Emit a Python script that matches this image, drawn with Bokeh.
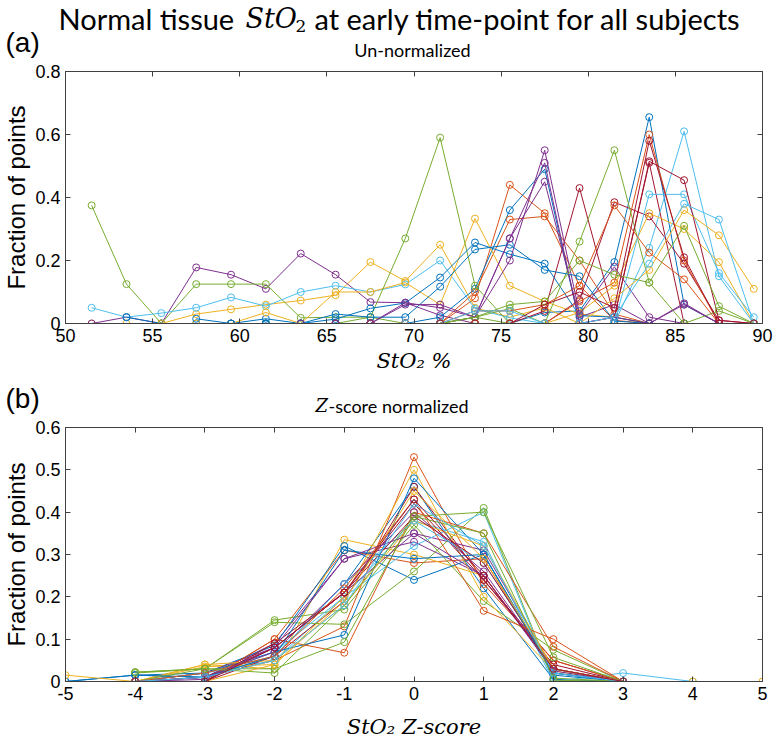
import numpy as np
from bokeh.plotting import figure
from bokeh.models import LinearAxis, FixedTicker, Range1d
from bokeh.core.properties import value
from bokeh.layouts import column, row
from bokeh.embed import file_html
from bokeh.resources import INLINE

N = None

# ---------------- data: panel (a) ----------------
sto2_bins = [51.5, 53.5, 55.5, 57.5, 59.5, 61.5, 63.5, 65.5, 67.5, 69.5,
             71.5, 73.5, 75.5, 77.5, 79.5, 81.5, 83.5, 85.5, 87.5, 89.5]
sto2_ticks = [50, 55, 60, 65, 70, 75, 80, 85, 90]
frac_ticks_a = [0, 0.2, 0.4, 0.6, 0.8]

a01 = [N, N, N, N, 0, .015, 0, 0, 0, 0, 0, 0, 0, .035, .04, .195, .655, .06, 0, N]
a02 = [N, N, N, N, N, N, 0, 0, 0, 0, 0, .08, .44, .35, .12, .01, 0, 0, N, N]
a03 = [0, 0, 0, .03, .045, .06, .073, .09, .195, .135, .25, .05, .02, .05, 0, 0, 0, N, N, N]
a04 = [0, .02, 0, .178, .155, .11, .222, .155, .068, .066, .026, 0, 0, 0, 0, N, N, N, N, N]
a05 = [.375, .125, 0, .125, .125, .125, .018, .02, .02, 0, 0, .02, .047, 0, 0, N, N, N, N, N]
a06 = [.05, .02, .033, .05, .083, .055, .1, .12, .1, .124, .2, .047, .018, 0, 0, 0, N, N, N, N]
a07 = [N, N, N, N, N, N, 0, 0, 0, 0, 0, 0, 0, .04, .43, .02, .51, 0, 0, 0]
a08 = [N, .02, 0, 0, 0, 0, 0, 0, 0, 0, .02, .11, .36, .49, 0, 0, 0, 0, N, N]
a09 = [N, N, N, N, N, N, N, 0, 0, 0, 0, .1, .33, .34, .2, .03, 0, 0, N, N]
a10 = [N, N, 0, 0, 0, .035, 0, .1, .1, .13, .06, .333, .12, .07, .03, .02, 0, 0, N, N]
a11 = [N, N, N, N, N, N, N, 0, 0, .06, .06, .02, .27, .45, .02, .06, 0, .06, 0, N]
a12 = [N, N, N, N, N, 0, 0, 0, .02, .27, .59, .12, 0, 0, 0, 0, 0, N, N, N]
a13 = [N, N, N, N, N, N, N, N, N, 0, 0, 0, 0, 0, 0, 0, .24, .61, .15, 0]
a14 = [N, N, N, N, N, N, N, 0, 0, 0, 0, 0, 0, 0, .075, .385, .34, .19, .01, 0]
a15 = [N, N, N, .015, 0, 0, 0, .014, .048, .065, .146, .257, .22, .19, .025, .02, 0, 0, N, N]
a16 = [N, N, N, N, N, N, N, N, N, N, 0, 0, 0, 0, .07, .13, .6, .2, 0, 0]
a17 = [N, N, N, N, N, N, N, N, N, N, 0, 0, 0, 0, .035, .12, .35, .30, .195, 0]
a18 = [N, N, N, N, N, N, N, N, 0, 0, 0, .02, .2, .55, .03, .18, .02, 0, 0, N]
a19 = [N, N, N, N, N, N, N, N, N, 0, 0, .02, 0, 0, .26, .55, .13, 0, .04, 0]
a20 = [N, N, N, N, N, N, N, N, N, N, 0, 0, 0, 0, 0, 0, .41, .41, .16, .02]
a21 = [N, N, N, N, N, N, N, N, 0, 0, 0, 0, 0, 0, 0, .02, .515, .455, .01, 0]
a22 = [N, N, N, N, 0, 0, 0, .03, .02, .02, .117, .235, .25, .17, .15, .008, 0, N, N, N]
a23 = [N, N, N, N, N, N, N, N, 0, 0, 0, .04, .04, .06, .12, .375, .225, .14, 0, N]
a24 = [N, N, N, N, N, N, N, N, N, N, N, 0, 0, 0, 0, .08, .17, .36, .28, .11]
a25 = [N, N, N, N, N, N, 0, 0, 0, .066, .05, .02, .27, .51, 0, .02, 0, .064, 0, N]
a26 = [N, N, N, N, N, N, N, N, N, N, 0, .02, .06, .07, .2, .155, .13, .31, .055, 0]
a27 = [N, N, N, N, N, N, N, N, N, 0, 0, .04, .04, 0, 0, .02, .19, .38, .33, 0]
a28 = [N, N, N, N, N, N, N, N, N, N, 0, 0, 0, .06, .1, .05, .58, .21, 0, 0]

# ---------------- data: panel (b) ----------------
z_bins = [-5, -4, -3, -2, -1, 0, 1, 2, 3, 4, 5]
z_ticks = [-5, -4, -3, -2, -1, 0, 1, 2, 3, 4, 5]
frac_ticks_b = [0, 0.1, 0.2, 0.3, 0.4, 0.5, 0.6]

b01 = [0, .015, .01, .06, .23, .46, .22, .005, 0, N, N]
b02 = [N, 0, 0, .1, .31, .28, .29, .02, 0, N, N]
b03 = [N, 0, .04, .03, .335, .30, .25, .03, 0, N, N]
b04 = [N, 0, .01, .09, .29, .33, .25, .03, 0, N, N]
b05 = [N, .02, .03, .145, .17, .37, .19, .075, 0, N, N]
b06 = [N, 0, .02, .05, .2, .38, .33, 0, .02, 0, N]
b07 = [N, 0, 0, .06, .19, .46, .24, .05, 0, N, N]
b08 = [0, .015, .02, .085, .32, .24, .30, .02, 0, N, N]
b09 = [N, 0, .01, .05, .13, .53, .23, .05, 0, N, N]
b10 = [N, 0, .035, .04, .2, .5, .2, .025, 0, N, N]
b11 = [N, 0, .02, .08, .21, .35, .31, .03, 0, N, N]
b12 = [N, .022, .03, .14, .135, .26, .41, .003, 0, N, N]
b13 = [N, 0, .01, .07, .2, .32, .40, 0, 0, N, N]
b14 = [N, 0, .01, .08, .21, .42, .24, .04, 0, N, N]
b15 = [N, 0, .02, .07, .11, .48, .30, .02, 0, N, N]
b16 = [N, 0, 0, .10, .068, .40, .35, .082, 0, N, N]
b17 = [N, 0, .04, .05, .18, .38, .32, .03, 0, N, N]
b18 = [N, 0, .01, .07, .23, .40, .26, .03, 0, N, N]
b19 = [N, 0, .03, .03, .093, .39, .40, .057, 0, N, N]
b20 = [N, 0, .02, .06, .23, .38, .28, .03, 0, N, N]
b21 = [N, 0, 0, .09, .21, .39, .28, .03, 0, N, N]
b22 = [N, .015, .01, .06, .31, .29, .30, .015, 0, N, N]
b23 = [N, 0, .02, .06, .22, .43, .167, .1, 0, N, N]
b24 = [.015, 0, 0, .04, .19, .45, .29, .03, 0, 0, 0]
b25 = [N, 0, .005, .08, .29, .35, .25, .025, 0, N, N]
b26 = [N, .022, .03, .02, .18, .39, .35, .008, 0, N, N]
b27 = [N, 0, .01, .05, .18, .42, .32, .02, 0, N, N]
b28 = [N, 0, 0, .08, .21, .43, .25, .03, 0, N, N]

series_a = [a01, a02, a03, a04, a05, a06, a07, a08, a09, a10, a11, a12, a13, a14,
            a15, a16, a17, a18, a19, a20, a21, a22, a23, a24, a25, a26, a27, a28]
series_b = [b01, b02, b03, b04, b05, b06, b07, b08, b09, b10, b11, b12, b13, b14,
            b15, b16, b17, b18, b19, b20, b21, b22, b23, b24, b25, b26, b27, b28]

colors = ["#0072BD", "#D95319", "#EDB120", "#7E2F8E", "#77AC30", "#4DBEEE", "#A2142F"]

AX = "#404040"
TICK_FONT = "Liberation Sans"
SANS = "Lato"
SERIF = "DejaVu Serif"
W = 773


def tick_fmt(v):
    if v == 0:
        return "0"
    if float(v).is_integer():
        return str(int(v))
    return "%g" % v


def style(p, xticks, yticks, xlabel, xlabel_standoff):
    xa = p.below[0]
    ya = p.left[0]
    xa.ticker = FixedTicker(ticks=xticks)
    ya.ticker = FixedTicker(ticks=yticks)
    xa.major_label_overrides = {t: tick_fmt(t) for t in xticks}
    ya.major_label_overrides = {t: tick_fmt(t) for t in yticks}
    for ax in (xa, ya):
        ax.major_tick_in = 5
        ax.major_tick_out = 0
        ax.minor_tick_in = 0
        ax.minor_tick_out = 0
        ax.axis_line_color = AX
        ax.major_tick_line_color = AX
        ax.major_label_text_font = TICK_FONT
        ax.major_label_text_font_size = "18px"
        ax.major_label_text_color = "#000000"
        ax.axis_label_text_color = "#000000"
        ax.major_label_standoff = 5
    ya.axis_label = "Fraction of points"
    ya.axis_label_text_font = TICK_FONT
    ya.axis_label_text_font_size = "24px"
    ya.axis_label_text_font_style = "normal"
    ya.axis_label_standoff = 2
    xa.axis_label = xlabel
    xa.axis_label_text_font = SERIF
    xa.axis_label_text_font_size = "21px"
    xa.axis_label_text_font_style = "italic"
    xa.axis_label_standoff = xlabel_standoff
    p.xgrid.visible = False
    p.ygrid.visible = False
    p.outline_line_color = AX
    p.outline_line_width = 1
    p.background_fill_color = "white"
    p.border_fill_color = "white"
    top = LinearAxis(ticker=FixedTicker(ticks=xticks), major_label_text_font_size="0px",
                     major_label_standoff=0, major_tick_in=5, major_tick_out=0,
                     minor_tick_in=0, minor_tick_out=0, axis_line_color=None,
                     major_tick_line_color=AX)
    top.major_label_overrides = {t: "" for t in xticks}
    right = LinearAxis(ticker=FixedTicker(ticks=yticks), major_label_text_font_size="0px",
                       major_label_standoff=0, major_tick_in=5, major_tick_out=0,
                       minor_tick_in=0, minor_tick_out=0, axis_line_color=None,
                       major_tick_line_color=AX)
    right.major_label_overrides = {t: "" for t in yticks}
    p.add_layout(top, "above")
    p.add_layout(right, "right")


def draw(p, xs, series):
    x = np.array(xs, dtype=float)
    for i, s in enumerate(series):
        y = np.array(s, dtype=float)
        c = colors[i % len(colors)]
        p.line(x, y, line_color=c, line_width=1)
        p.scatter(x, y, marker="circle", size=7, fill_color=None, line_color=c, line_width=1)


def text_panel(h):
    t = figure(title=None, frame_width=W, frame_height=h, x_range=Range1d(0, W),
               y_range=Range1d(h, 0), x_axis_type=None, y_axis_type=None,
               output_backend="svg", toolbar_location=None, min_border=0)
    t.outline_line_color = None
    t.grid.visible = False
    return t


def put(t, x, y, txt, font=SANS, size=18, style_="normal", align="left", baseline="middle"):
    t.text(x=[x], y=[y], text=[txt], text_font=value(font), text_font_size=value(f"{size}px"),
           text_font_style=style_, text_align=align, text_baseline=baseline,
           text_color="#000000")


# ---------------- header (a) ----------------
h1 = text_panel(61)
put(h1, 58, 18, "Normal  tissue", size=29)
put(h1, 245, 18, "StO", font=SERIF, size=27, style_="italic")
put(h1, 295, 25, "2", font=SERIF, size=17)
put(h1, 314, 18, "at early time-point for all subjects", size=29)
put(h1, 5, 42, "(a)", font=TICK_FONT, size=28)
put(h1, 412, 49, "Un-normalized", size=18, align="center")

# ---------------- panel (a) ----------------
p1 = figure(title=None, frame_width=697, frame_height=252, x_range=Range1d(50, 90),
            y_range=Range1d(0, 0.8), output_backend="svg", toolbar_location=None,
            min_border_left=63, min_border_right=13, min_border_top=10, min_border_bottom=57)
style(p1, sto2_ticks, frac_ticks_a, "StO\u2082 %", 4)
draw(p1, sto2_bins, series_a)

# ---------------- header (b) ----------------
h2 = text_panel(35)
put(h2, 5, 18, "(b)", font=TICK_FONT, size=28)
put(h2, 315, 25, "Z", font=SERIF, size=18, style_="italic")
put(h2, 328, 25, "-score normalized", size=18)

# ---------------- panel (b) ----------------
p2 = figure(title=None, frame_width=697, frame_height=254, x_range=Range1d(-5, 5),
            y_range=Range1d(0, 0.6), output_backend="svg", toolbar_location=None,
            min_border_left=63, min_border_right=13, min_border_top=12, min_border_bottom=63)
style(p2, z_ticks, frac_ticks_b, "StO\u2082 Z-score", 12)
draw(p2, z_bins, series_b)

layout = column(row(h1), p1, row(h2), p2)
open("out.html", "w").write(file_html(layout, INLINE))
